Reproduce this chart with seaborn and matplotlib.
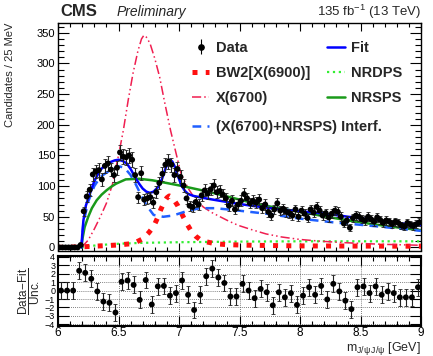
import numpy as np
import matplotlib
matplotlib.use("Agg")
import matplotlib.pyplot as plt
import seaborn as sns
from matplotlib.ticker import MultipleLocator
from matplotlib.lines import Line2D
from matplotlib.font_manager import FontProperties

sns.set_style("ticks")
plt.rcParams['font.family'] = ['Liberation Sans', 'DejaVu Sans']
plt.rcParams['mathtext.fontset'] = 'custom'
plt.rcParams['mathtext.rm'] = 'Liberation Sans'
plt.rcParams['mathtext.it'] = 'Liberation Sans:italic'
plt.rcParams['mathtext.bf'] = 'Liberation Sans:bold'

# ---------------- data ----------------
bin_width = 0.025
data_counts = [0, 0, 0, 0, 0, 0, 0, 4,
               59, 83, 94, 119, 124, 126, 111, 133, 137, 127, 118, 130,
               155, 148, 147, 150, 143, 118, 82, 121, 78, 80, 82, 73,
               90, 105, 120, 135, 140, 135, 118, 128, 115, 101, 80, 68,
               66, 74, 70, 85, 93, 88, 95, 101, 90, 92, 86, 80,
               68, 76, 62, 70, 76, 87, 80, 72, 76, 73, 78, 64,
               70, 58, 52, 62, 72, 60, 63, 58, 56, 52, 62, 50,
               60, 55, 48, 62, 57, 66, 60, 52, 56, 49, 55, 60,
               58, 50, 39, 44, 32, 48, 52, 50, 46, 44, 50, 46,
               42, 49, 45, 40, 44, 42, 38, 42, 40, 36, 34, 40,
               37, 35, 38, 41]
data_mass = 6.0 + bin_width * (np.arange(len(data_counts)) + 0.5)
data_err = np.sqrt(np.array(data_counts, dtype=float))

resid_width = 0.05
resid_vals = [0, 0, 0, 2.35, 2.1, 1.4, -0.1, -1.3, -1.45, -2.6,
              1.05, 1.2, 0.67, -1.1, 1.25, -1.65, 0.5, 0.55, -0.6, -0.3,
              1.2, -0.5, -2.3, -0.5, 1.7, 2.6, 1.55, 0.9, -0.7, -0.7,
              0.8, 0, -0.9, 0.2, -0.2, -1.75, -0.2, -0.8, -0.3, -1.7,
              -0.6, 0.4, -0.5, 0.55, -1.05, 0.8, -0.1, -1.2, -2.2, 0.4,
              0.5, -0.3, 0.5, -0.5, -0.1, -0.3, -0.8, -0.8, -0.8, 0.4]
resid_mass = 6.0 + resid_width * (np.arange(len(resid_vals)) + 0.5)
resid_err = [1.0] * len(resid_vals)

fit_m = [6.194, 6.20, 6.21, 6.23, 6.25, 6.264, 6.30, 6.347, 6.39, 6.43,
         6.47, 6.50, 6.535, 6.568, 6.60, 6.636, 6.67, 6.70, 6.73, 6.76,
         6.79, 6.83, 6.86, 6.884, 6.905, 6.926, 6.945, 6.967, 6.99, 7.02,
         7.05, 7.077, 7.12, 7.17, 7.25, 7.34, 7.46, 7.6, 7.8, 8.0,
         8.21, 8.4, 8.6, 8.8, 9.0]
fit_v = [0, 20, 44, 68, 80, 88, 108, 126, 134, 139,
         142, 143, 141, 137, 128, 115, 104, 96, 91, 89,
         91, 99, 112, 126, 138, 143, 140, 131, 117, 101,
         92, 87, 84, 82, 79, 76, 72, 68, 63, 59,
         55, 50, 45, 40, 36]

nrsps_m = [6.194, 6.20, 6.22, 6.25, 6.28, 6.32, 6.36, 6.40, 6.44, 6.48,
           6.56, 6.67, 6.78, 6.90, 7.03, 7.17, 7.30, 7.46, 7.6, 7.72,
           7.85, 8.0, 8.25, 8.4, 8.6, 8.83, 9.0]
nrsps_v = [0, 12, 33, 50, 64, 77, 86, 93, 99, 104,
           111, 112, 109.5, 105, 100, 94, 88, 80, 73, 68,
           63, 58, 49, 44, 38, 32, 28]

interf_m = [6.194, 6.21, 6.25, 6.30, 6.35, 6.40, 6.457, 6.51, 6.55, 6.60,
            6.64, 6.68, 6.73, 6.79, 6.87, 6.95, 7.06, 7.17, 7.3, 7.45,
            7.72, 8.0, 8.27, 8.55, 8.83, 9.0]
interf_v = [0, 40, 75, 100, 115, 122, 128, 132, 130, 118,
            104, 88, 69, 53, 50, 52, 59, 64, 64, 61,
            55, 47, 41, 36, 30.5, 27]

x6700_m = [6.194, 6.25, 6.30, 6.35, 6.40, 6.45, 6.50, 6.54, 6.58, 6.62,
           6.66, 6.69, 6.71, 6.73, 6.76, 6.80, 6.84, 6.88, 6.93, 6.98,
           7.02, 7.08, 7.13, 7.2, 7.27, 7.35, 7.41, 7.49, 7.6, 7.72,
           7.85, 8.0, 8.15, 8.3, 8.5, 8.7, 9.0]
x6700_v = [0, 12, 30, 50, 72, 103, 150, 191, 240, 284,
           320, 340, 346, 343, 333, 308, 278, 238, 191, 150,
           118, 95, 80, 66, 57, 49, 43, 36, 29, 22,
           17, 13, 10.5, 8.5, 6.5, 5, 3.5]

bw2_m = [6.0, 6.194, 6.3, 6.4, 6.5, 6.6, 6.65, 6.7, 6.75, 6.79, 6.82,
         6.85, 6.88, 6.90, 6.92, 6.94, 6.96, 6.99, 7.01, 7.04, 7.07,
         7.10, 7.14, 7.18, 7.23, 7.3, 7.4, 7.6, 8.0, 8.5, 9.0]
bw2_v = [0, 1, 2, 3, 4, 6, 9, 14, 24, 34, 47,
         62, 75, 81, 84, 82, 77, 68, 60, 48, 37,
         27, 18, 12, 9, 6, 4.5, 3.5, 2.5, 2.2, 2]

nrdps_m = [6.0, 6.194, 6.25, 6.35, 6.5, 6.7, 7.0, 7.5, 8.0, 8.5, 9.0]
nrdps_v = [0, 0, 2, 4, 6, 7.5, 8.5, 9.5, 10, 10, 10]

# ---------------- styles ----------------
c_fit = '#0000ff'
c_int = '#1f5fff'
c_nrsps = '#1a9a1a'
c_nrdps = '#33ee33'
c_bw = '#ff1010'
c_x67 = '#f01e50'
x67_dash = (6, 2, 1, 2, 1, 2)

W, H = 433, 356
fig = plt.figure(figsize=(W / 100, H / 100), dpi=100)
L, R = 58, 421
ax = fig.add_axes([L / W, 1 - 250.5 / H, (R - L) / W, 227.5 / H])
axr = fig.add_axes([L / W, 1 - 326 / H, (R - L) / W, 70 / H])

# curves
sns.lineplot(x=nrdps_m, y=nrdps_v, ax=ax, color=c_nrdps, lw=1.6,
             linestyle=':', estimator=None, sort=False, zorder=3)
sns.lineplot(x=bw2_m, y=bw2_v, ax=ax, color=c_bw, lw=3.6,
             linestyle=':', estimator=None, sort=False, zorder=3)
sns.lineplot(x=x6700_m, y=x6700_v, ax=ax, color=c_x67, lw=1.1,
             estimator=None, sort=False, zorder=3)
ax.lines[-1].set_dashes(x67_dash)
sns.lineplot(x=nrsps_m, y=nrsps_v, ax=ax, color=c_nrsps, lw=1.8,
             estimator=None, sort=False, zorder=4)
sns.lineplot(x=interf_m, y=interf_v, ax=ax, color=c_int, lw=1.8,
             estimator=None, sort=False, zorder=4)
ax.lines[-1].set_dashes((3.5, 2.5))
sns.lineplot(x=fit_m, y=fit_v, ax=ax, color=c_fit, lw=1.8,
             estimator=None, sort=False, zorder=5)

# data
ax.errorbar(data_mass, data_counts, yerr=data_err, fmt='none',
            ecolor='#222222', elinewidth=0.8, capsize=1.2, capthick=0.6, zorder=6)
sns.scatterplot(x=data_mass, y=data_counts, ax=ax, color='black', s=18,
                edgecolor='none', zorder=7)

ax.set_xlim(6, 9)
ax.set_ylim(-5, 366)
ax.xaxis.set_major_locator(MultipleLocator(0.5))
ax.xaxis.set_minor_locator(MultipleLocator(0.1))
ax.yaxis.set_major_locator(MultipleLocator(50))
ax.yaxis.set_minor_locator(MultipleLocator(10))
ax.tick_params(axis='both', which='both', direction='in', top=True, right=True,
               width=0.8, colors='black')
ax.tick_params(axis='y', which='major', length=8, labelsize=8, pad=2)
ax.tick_params(axis='y', which='minor', length=4)
ax.tick_params(axis='x', which='major', length=6, labelbottom=False)
ax.tick_params(axis='x', which='minor', length=3)
for s in ax.spines.values():
    s.set_linewidth(1.0)
    s.set_color('black')
ax.set_xlabel('')
ax.set_ylabel('Candidates / 25 MeV', fontsize=8, loc='top')
ax.yaxis.set_label_coords(-0.118, 1.0)

# legend
legfont = FontProperties(family='Liberation Sans', weight='bold', size=10.5)
h_data = ax.errorbar([], [], yerr=[], fmt='o', color='black', ms=3.8,
                     elinewidth=0.8, capsize=1.5)
h_bw = Line2D([], [], color=c_bw, lw=3.6, linestyle=':')
h_x67 = Line2D([], [], color=c_x67, lw=1.1, dashes=x67_dash)
h_fit = Line2D([], [], color=c_fit, lw=1.8)
h_nrdps = Line2D([], [], color=c_nrdps, lw=1.6, linestyle=':')
h_nrsps = Line2D([], [], color=c_nrsps, lw=1.8)
h_int = Line2D([], [], color=c_int, lw=1.8, dashes=(3.5, 2.5))

leg1 = ax.legend([h_data, h_bw, h_x67, h_fit, h_nrdps, h_nrsps],
                 ['Data', 'BW2[X(6900)]', 'X(6700)', 'Fit', 'NRDPS', 'NRSPS'],
                 ncol=2, loc='center left', bbox_to_anchor=(0.369, 0.78),
                 frameon=False, prop=legfont, handlelength=1.2,
                 handletextpad=0.45, columnspacing=1.15, labelspacing=0.78,
                 borderpad=0, borderaxespad=0)
ax.add_artist(leg1)
ax.legend([h_int], ['(X(6700)+NRSPS) Interf.'], loc='center left',
          bbox_to_anchor=(0.369, 0.543), frameon=False, prop=legfont,
          handlelength=1.2, handletextpad=0.45, borderpad=0, borderaxespad=0)

# residual panel
axr.errorbar(resid_mass, resid_vals, yerr=resid_err, fmt='none',
             ecolor='#222222', elinewidth=0.8, capsize=1.2, capthick=0.6, zorder=6)
sns.scatterplot(x=resid_mass, y=resid_vals, ax=axr, color='black', s=18,
                edgecolor='none', zorder=7)
axr.set_xlim(6, 9)
axr.set_ylim(-4.2, 4.1)
axr.xaxis.set_minor_locator(MultipleLocator(0.1))
axr.yaxis.set_major_locator(MultipleLocator(1))
axr.set_xticks([6, 6.5, 7, 7.5, 8, 8.5, 9])
axr.set_xticklabels(['6', '6.5', '7', '7.5', '8', '8.5', '9'])
axr.grid(True, which='major', linestyle=(0, (1, 1.5)), color='#555555', lw=0.6)
axr.tick_params(axis='both', which='both', direction='in', top=True, right=True,
                width=0.8, colors='black')
axr.tick_params(axis='y', which='major', length=8, labelsize=6.5, pad=2)
axr.tick_params(axis='x', which='major', length=7, labelsize=8.5, pad=1)
axr.tick_params(axis='x', which='minor', length=3.5)
for s in axr.spines.values():
    s.set_linewidth(1.5)
    s.set_color('black')
axr.set_ylabel(r'$\dfrac{\mathrm{Data\!-\!Fit}}{\mathrm{Unc.}}$', fontsize=8.5, labelpad=2)
axr.set_xlabel(r'm$_{\mathrm{J/\psi\,J/\psi}}$ [GeV]', fontsize=9, loc='right')
axr.xaxis.set_label_coords(1.0, -0.195)

# header texts
fig.text(60 / W, 1 - 12 / H, 'CMS', fontsize=12, fontweight='bold', va='center', ha='left')
fig.text(117 / W, 1 - 12 / H, 'Preliminary', fontsize=10, fontstyle='italic', va='center', ha='left')
fig.text(421 / W, 1 - 12 / H, r'135 fb$^{-1}$ (13 TeV)', fontsize=9.5, va='center', ha='right')

fig.savefig('out.png', dpi=100)
